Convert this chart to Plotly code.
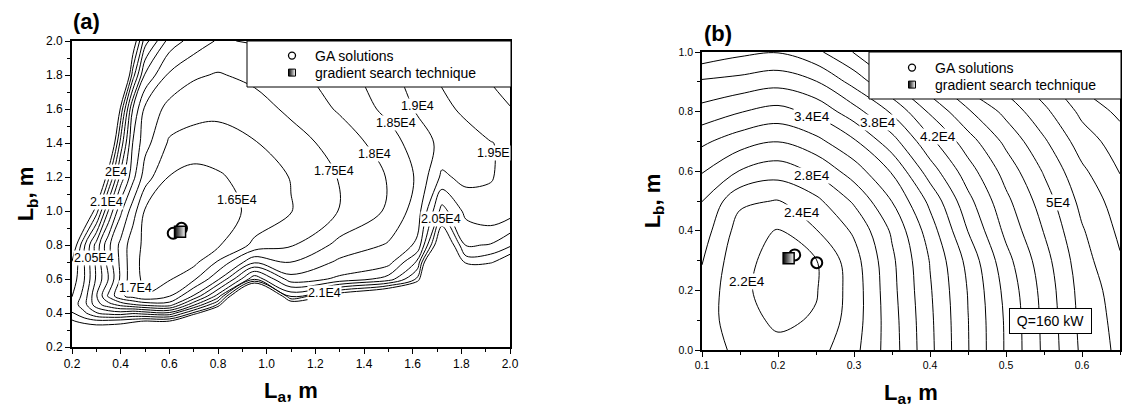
import plotly.graph_objects as go

# ---------------- panel (a) data : cost in units of 1E4 ----------------
la_a = [0.2, 0.25, 0.3, 0.35, 0.4, 0.45, 0.5, 0.6, 0.7, 0.8, 0.95, 1.1, 1.3, 1.5, 1.62, 1.72, 1.82, 1.92, 2.0]
lb_a = [0.2, 0.3, 0.35, 0.4, 0.45, 0.5, 0.6, 0.7, 0.8, 1.0, 1.2, 1.4, 1.6, 1.8, 2.0]
cost_a = [
    [2.6, 2.6, 2.6, 2.6, 2.6, 2.6, 2.6, 2.6, 2.7, 2.9, 3.3, 3.0, 3.0, 3.1, 3.1, 3.3, 3.2, 3.2, 3.2],
    [2.25, 2.22, 2.2, 2.2, 2.2, 2.25, 2.3, 2.3, 2.5, 2.7, 3.1, 2.8, 2.8, 2.9, 2.9, 3.1, 3.0, 3.0, 3.0],
    [2.16, 2.13, 2.117, 2.12, 2.13, 2.14, 2.16, 2.16, 2.35, 2.5, 3.0, 2.7, 2.7, 2.8, 2.8, 3.0, 2.9, 2.9, 2.9],
    [2.102, 2.06, 2.003, 1.98, 1.97, 1.99, 1.975, 1.96, 2.11, 2.3, 3.0, 2.6, 2.6, 2.7, 2.7, 3.0, 2.8, 2.8, 2.8],
    [2.08, 2.02, 1.92, 1.87, 1.83, 1.802, 1.78, 1.77, 1.935, 2.105, 2.7, 2.22, 2.4, 2.45, 2.5, 2.8, 2.6, 2.6, 2.6],
    [2.102, 2.03, 1.905, 1.79, 1.71, 1.68, 1.652, 1.697, 1.805, 1.97, 2.5, 2.04, 2.2, 2.3, 2.4, 2.7, 2.5, 2.5, 2.5],
    [2.13, 2.053, 1.942, 1.848, 1.74, 1.667, 1.64, 1.645, 1.69, 1.79, 2.04, 1.87, 1.91, 1.97, 2.11, 2.6, 2.3, 2.3, 2.35],
    [2.148, 2.052, 1.938, 1.828, 1.737, 1.668, 1.635, 1.625, 1.635, 1.705, 1.84, 1.795, 1.86, 1.88, 2.01, 2.5, 2.13, 2.14, 2.2],
    [2.205, 2.058, 1.93, 1.811, 1.736, 1.67, 1.64, 1.617, 1.622, 1.643, 1.712, 1.745, 1.815, 1.855, 1.91, 2.25, 2.045, 2.053, 2.09],
    [2.35, 2.25, 2.122, 1.946, 1.81, 1.723, 1.645, 1.625, 1.622, 1.632, 1.66, 1.698, 1.752, 1.807, 1.875, 2.07, 1.985, 1.96, 1.975],
    [2.55, 2.45, 2.3, 2.112, 1.931, 1.816, 1.724, 1.648, 1.63, 1.643, 1.673, 1.702, 1.753, 1.803, 1.857, 1.96, 1.935, 1.948, 1.96],
    [2.75, 2.65, 2.5, 2.27, 2.033, 1.848, 1.768, 1.693, 1.682, 1.68, 1.697, 1.727, 1.772, 1.825, 1.876, 1.912, 1.926, 1.948, 1.96],
    [2.9, 2.8, 2.65, 2.45, 2.135, 1.897, 1.789, 1.733, 1.716, 1.712, 1.728, 1.761, 1.806, 1.864, 1.906, 1.935, 1.962, 1.986, 1.998],
    [3.0, 2.9, 2.75, 2.55, 2.35, 2.075, 1.894, 1.791, 1.757, 1.746, 1.763, 1.785, 1.828, 1.885, 1.927, 1.959, 1.982, 2.004, 2.02],
    [3.1, 3.0, 2.9, 2.7, 2.45, 2.2, 2.022, 1.879, 1.828, 1.795, 1.805, 1.833, 1.866, 1.922, 1.953, 1.974, 1.994, 2.014, 2.03],
]

ga_a_la = [0.616, 0.650]
ga_a_lb = [0.869, 0.898]
grad_a_la = [0.644]
grad_a_lb = [0.878]

labels_a_text = ["2E4", "2.1E4", "2.05E4", "1.7E4", "1.65E4", "1.75E4", "1.8E4",
                 "1.85E4", "1.9E4", "1.95E", "2.05E4", "2.1E4"]
labels_a_la = [0.381, 0.342, 0.29, 0.459, 0.878, 1.276, 1.444, 1.531, 1.619, 1.931, 1.715, 1.239]
labels_a_lb = [1.229, 1.055, 0.724, 0.547, 1.065, 1.237, 1.335, 1.516, 1.618, 1.339, 0.951, 0.516]

# ---------------- panel (b) data : cost in units of 1E4 ----------------
la_b = [0.1, 0.15, 0.2, 0.25, 0.3, 0.35, 0.4, 0.45, 0.5, 0.55, 0.6, 0.65]
lb_b = [0.0, 0.1, 0.2, 0.3, 0.4, 0.5, 0.6, 0.7, 0.8, 0.9, 1.0]
cost_b = [
    [2.5, 2.35, 2.26, 2.32, 2.54, 2.91, 3.35, 3.79, 4.225, 4.64, 5.04, 5.25],
    [2.5, 2.28, 2.16, 2.22, 2.5, 2.92, 3.36, 3.795, 4.23, 4.65, 5.06, 5.27],
    [2.54, 2.24, 2.12, 2.185, 2.49, 2.94, 3.38, 3.81, 4.26, 4.67, 5.08, 5.3],
    [2.61, 2.25, 2.14, 2.19, 2.52, 2.96, 3.41, 3.86, 4.33, 4.72, 5.12, 5.38],
    [2.7, 2.31, 2.185, 2.39, 2.63, 3.03, 3.5, 4.005, 4.45, 4.81, 5.18, 5.44],
    [2.802, 2.44, 2.39, 2.55, 2.83, 3.205, 3.65, 4.14, 4.55, 4.9, 5.26, 5.5],
    [3.015, 2.79, 2.69, 2.83, 3.1, 3.42, 3.9, 4.31, 4.68, 5.02, 5.36, 5.61],
    [3.24, 3.09, 3.005, 3.14, 3.37, 3.72, 4.15, 4.51, 4.85, 5.17, 5.5, 5.7],
    [3.53, 3.41, 3.33, 3.45, 3.72, 4.03, 4.43, 4.77, 5.06, 5.35, 5.65, 5.85],
    [3.77, 3.73, 3.67, 3.79, 4.07, 4.405, 4.75, 5.1, 5.3, 5.55, 5.85, 6.01],
    [4.15, 4.05, 4.01, 4.15, 4.41, 4.78, 5.1, 5.41, 5.61, 5.81, 6.05, 6.21],
]

ga_b_la = [0.222, 0.251]
ga_b_lb = [0.319, 0.293]
grad_b_la = [0.214]
grad_b_lb = [0.308]

labels_b_text = ["2.2E4", "2.4E4", "2.8E4", "3.4E4", "3.8E4", "4.2E4", "5E4"]
labels_b_la = [0.159, 0.231, 0.245, 0.245, 0.331, 0.41, 0.569]
labels_b_lb = [0.229, 0.461, 0.585, 0.783, 0.764, 0.718, 0.496]

# ---------------- figure ----------------
FONT = "Liberation Sans, Arial, sans-serif"
W, H = 1122, 415


def px_x(p):
    return p / W


def px_y(p):
    return 1 - p / H


fig = go.Figure()

fig.add_trace(go.Contour(
    x=la_a, y=lb_a, z=cost_a, xaxis="x", yaxis="y",
    autocontour=False,
    contours=dict(start=1.65, end=2.151, size=0.05, coloring="none", showlabels=False),
    line=dict(color="black", width=1), showscale=False, hoverinfo="skip", showlegend=False))

fig.add_trace(go.Contour(
    x=la_b, y=lb_b, z=cost_b, xaxis="x2", yaxis="y2",
    autocontour=False,
    contours=dict(start=2.2, end=6.21, size=0.2, coloring="none", showlabels=False),
    line=dict(color="black", width=1), showscale=False, hoverinfo="skip", showlegend=False))

circle_marker = dict(symbol="circle-open", size=11, color="black", line=dict(width=2, color="black"))
square_marker = dict(symbol="square", size=11, color="black",
                     gradient=dict(type="horizontal", color="white"),
                     line=dict(width=1.5, color="black"))

for xa, ya, gx, gy, sx, sy in [("x", "y", ga_a_la, ga_a_lb, grad_a_la, grad_a_lb),
                                ("x2", "y2", ga_b_la, ga_b_lb, grad_b_la, grad_b_lb)]:
    fig.add_trace(go.Scatter(x=gx, y=gy, mode="markers", marker=circle_marker,
                             xaxis=xa, yaxis=ya, showlegend=False, hoverinfo="skip"))
    fig.add_trace(go.Scatter(x=sx, y=sy, mode="markers", marker=square_marker,
                             xaxis=xa, yaxis=ya, showlegend=False, hoverinfo="skip"))

# legend entries (small symbols as in the original legend), one legend per row
legend_rows = [("legend", "x", "y", "GA solutions"),
               ("legend2", "x", "y", "gradient search technique"),
               ("legend3", "x2", "y2", "GA solutions"),
               ("legend4", "x2", "y2", "gradient search technique")]
for leg, xa, ya, name in legend_rows:
    if name == "GA solutions":
        mk = dict(symbol="circle-open", size=7, color="black", line=dict(width=1.3, color="black"))
    else:
        mk = dict(symbol="square", size=7, color="black",
                  gradient=dict(type="horizontal", color="white"),
                  line=dict(width=1, color="black"))
    fig.add_trace(go.Scatter(x=[None], y=[None], mode="markers", name=name, marker=mk,
                             xaxis=xa, yaxis=ya, legend=leg))

axis_common = dict(showline=True, mirror=True, linecolor="black", linewidth=1.6,
                   ticks="outside", ticklen=5, tickwidth=1.3, tickcolor="black",
                   showgrid=False, zeroline=False, automargin=False,
                   tickfont=dict(family=FONT, size=12, color="black"))

annotations = []
for t, x, y in zip(labels_a_text, labels_a_la, labels_a_lb):
    annotations.append(dict(text=t, x=x, y=y, xref="x", yref="y", showarrow=False,
                            bgcolor="white", borderpad=0,
                            font=dict(family=FONT, size=12.5, color="black")))
for t, x, y in zip(labels_b_text, labels_b_la, labels_b_lb):
    annotations.append(dict(text=t, x=x, y=y, xref="x2", yref="y2", showarrow=False,
                            bgcolor="white", borderpad=0,
                            font=dict(family=FONT, size=13.5, color="black")))

annotations += [
    dict(text="<b>(a)</b>", x=px_x(86), y=px_y(22), xref="paper", yref="paper",
         xanchor="center", yanchor="middle",
         showarrow=False, font=dict(family=FONT, size=22, color="black")),
    dict(text="<b>(b)</b>", x=px_x(718), y=px_y(33), xref="paper", yref="paper",
         xanchor="center", yanchor="middle",
         showarrow=False, font=dict(family=FONT, size=22, color="black")),
    dict(text="Q=160 kW", x=px_x(1050.5), y=px_y(321), xref="paper", yref="paper",
         xanchor="center", yanchor="middle",
         showarrow=False, bordercolor="black", borderwidth=1, borderpad=4, bgcolor="white",
         width=73, font=dict(family=FONT, size=14, color="black")),
]

shapes = [
    dict(type="rect", xref="paper", yref="paper", x0=px_x(247), x1=px_x(511),
         y0=px_y(87), y1=px_y(41), line=dict(color="black", width=1),
         fillcolor="white", layer="above"),
    dict(type="rect", xref="paper", yref="paper", x0=px_x(869), x1=px_x(1121),
         y0=px_y(99), y1=px_y(52), line=dict(color="black", width=1),
         fillcolor="white", layer="above"),
]

title_font = dict(family=FONT, size=22, color="black")
legend_common = dict(xanchor="left", yanchor="top", bgcolor="rgba(0,0,0,0)", borderwidth=0,
                     tracegroupgap=0, itemwidth=36,
                     font=dict(family=FONT, size=14, color="black"))

fig.update_layout(
    width=W, height=H,
    margin=dict(l=0, r=0, t=0, b=0),
    paper_bgcolor="white", plot_bgcolor="white",
    font=dict(family=FONT, color="black"),
    xaxis=dict(domain=[px_x(72), px_x(510)], range=[0.2, 2.0], tick0=0.2, dtick=0.2,
               tickformat=".1f",
               minor=dict(dtick=0.1, tick0=0.1, ticks="outside", ticklen=3, tickwidth=1.2,
                          tickcolor="black", showgrid=False),
               title=dict(text="<b>L<sub>a</sub>, m</b>", font=title_font, standoff=12),
               anchor="y", **axis_common),
    yaxis=dict(domain=[px_y(347), px_y(41)], range=[0.2, 2.0], tick0=0.2, dtick=0.2,
               tickformat=".1f",
               minor=dict(dtick=0.1, tick0=0.1, ticks="outside", ticklen=3, tickwidth=1.2,
                          tickcolor="black", showgrid=False),
               title=dict(text="<b>L<sub>b</sub>, m</b>", font=title_font, standoff=6),
               anchor="x", **axis_common),
    xaxis2=dict(domain=[px_x(702), px_x(1120)], range=[0.1, 0.65], tick0=0.1, dtick=0.1,
                tickformat=".1f",
                minor=dict(dtick=0.05, tick0=0.05, ticks="outside", ticklen=3, tickwidth=1.2,
                           tickcolor="black", showgrid=False),
                title=dict(text="<b>L<sub>a</sub>, m</b>", font=title_font, standoff=14),
                anchor="y2", **{**axis_common, "tickfont": dict(family=FONT, size=10.5, color="black")}),
    yaxis2=dict(domain=[px_y(350), px_y(52)], range=[0.0, 1.0], tick0=0.0, dtick=0.2,
                tickformat=".1f",
                minor=dict(dtick=0.1, tick0=0.0, ticks="outside", ticklen=3, tickwidth=1.2,
                           tickcolor="black", showgrid=False),
                title=dict(text="<b>L<sub>b</sub>, m</b>", font=title_font, standoff=12),
                anchor="x2", **{**axis_common, "tickfont": dict(family=FONT, size=10.5, color="black")}),
    legend=dict(x=px_x(269), y=px_y(40), **legend_common),
    legend2=dict(x=px_x(269), y=px_y(57), **legend_common),
    legend3=dict(x=px_x(889), y=px_y(52), **legend_common),
    legend4=dict(x=px_x(889), y=px_y(69), **legend_common),
    annotations=annotations,
    shapes=shapes,
)

fig.write_html("out.html")
